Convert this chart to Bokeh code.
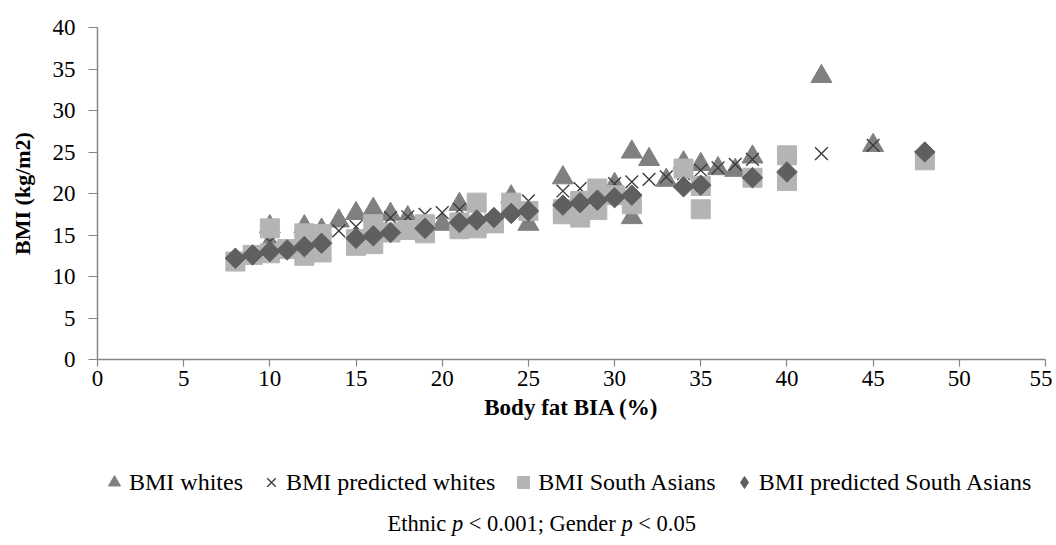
import numpy as np
from bokeh.plotting import figure
from bokeh.layouts import column
from bokeh.models import Legend, LegendItem, Label, Range1d, FixedTicker
from bokeh.embed import file_html
from bokeh.resources import INLINE

# ---- data ----
whites_x = [10, 10, 12, 13, 14, 15, 16, 17, 18, 20, 21, 22, 24, 25, 27, 30, 31, 31, 32, 33, 34, 35, 36, 37, 38, 42, 45]
whites_y = [16.0, 14.0, 16.0, 15.6, 16.7, 17.6, 18.1, 17.5, 17.1, 16.3, 18.7, 16.0, 19.6, 16.3, 21.9, 21.1, 25.0, 17.1, 24.1, 21.6, 23.7, 23.5, 23.0, 22.8, 24.4, 34.1, 25.8]

pred_whites_x = [10, 14, 15, 16, 17, 18, 19, 20, 21, 25, 27, 28, 29, 30, 31, 32, 33, 34, 35, 36, 37, 38, 42, 45]
pred_whites_y = [14.2, 15.5, 16.0, 16.6, 17.1, 17.2, 17.5, 17.7, 18.1, 19.1, 20.3, 20.6, 20.9, 21.2, 21.4, 21.7, 22.0, 22.4, 22.8, 23.1, 23.5, 24.1, 24.8, 25.8]

sa_x = [8, 9, 10, 10, 11, 12, 12, 13, 13, 15, 15, 16, 16, 17, 18, 19, 19, 21, 21, 22, 22, 23, 24, 25, 27, 27, 28, 28, 29, 29, 30, 31, 34, 35, 35, 38, 40, 40, 48]
sa_y = [11.8, 12.6, 15.8, 12.8, 13.3, 15.2, 12.5, 15.1, 12.9, 14.5, 13.7, 16.3, 13.9, 15.3, 15.6, 16.3, 15.2, 16.5, 15.7, 18.9, 15.8, 16.4, 18.9, 17.9, 18.1, 17.5, 19.1, 17.1, 20.6, 18.0, 19.8, 18.7, 23.0, 20.9, 18.1, 21.9, 24.6, 21.5, 24.0]

pred_sa_x = [8, 9, 10, 11, 12, 13, 15, 16, 17, 19, 21, 22, 23, 24, 25, 27, 28, 29, 30, 31, 34, 35, 38, 40, 48]
pred_sa_y = [12.2, 12.6, 13.0, 13.2, 13.6, 14.0, 14.6, 14.9, 15.3, 15.8, 16.5, 16.8, 17.1, 17.6, 17.9, 18.6, 18.9, 19.2, 19.5, 19.8, 20.8, 21.0, 21.9, 22.6, 25.0]

x_ticks = [0, 5, 10, 15, 20, 25, 30, 35, 40, 45, 50, 55]
y_ticks = [0, 5, 10, 15, 20, 25, 30, 35, 40]

series_labels = ["BMI whites", "BMI predicted whites", "BMI South Asians", "BMI predicted South Asians"]
x_title = "Body fat BIA (%)"
y_title = "BMI (kg/m2)"

FONT = "Liberation Serif"
FS = "23px"
FS_YT = "22px"
FS_LEG = "24px"
FS_FOOT = "22.5px"
AX = "#868686"
W = 1052
H_MAIN = 455
H_FOOT = 90

STYLES = [dict(marker="triangle", size=21, fill_color="#808080", line_color="#808080"),
          dict(marker="x", size=18, line_color="#3c3c3c", line_width=1.4),
          dict(marker="square", size=19, fill_color="#b4b4b4", line_color="#b4b4b4"),
          dict(marker="square", angle=np.pi / 4, size=14.5, fill_color="#5f5f5f", line_color="#5f5f5f")]
LEGEND_STYLES = STYLES[:3] + [dict(marker="diamond", size=14, fill_color="#5f5f5f", line_color="#5f5f5f")]

p = figure(width=W, height=H_MAIN, x_range=Range1d(0, 55), y_range=Range1d(0, 40),
           output_backend="svg", toolbar_location=None,
           min_border_left=97, min_border_right=7, min_border_top=27,
           min_border_bottom=H_MAIN - 27 - 332)
p.outline_line_color = None
p.grid.visible = False

for ax, ticks in ((p.xaxis, x_ticks), (p.yaxis, y_ticks)):
    ax.ticker = FixedTicker(ticks=ticks)
    ax.minor_tick_line_color = None
    ax.major_tick_in = 0
    ax.axis_line_color = AX
    ax.axis_line_width = 1.5
    ax.major_tick_line_color = AX
    ax.major_tick_line_width = 1.2
    ax.major_label_text_font = FONT
    ax.major_label_text_font_size = FS
    ax.major_label_text_color = "black"
    ax.axis_label_text_font = FONT
    ax.axis_label_text_font_size = FS
    ax.axis_label_text_font_style = "bold"
    ax.axis_label_text_color = "black"

p.xaxis.major_tick_out = 7
p.xaxis.major_label_standoff = 4
p.xaxis.axis_label = x_title
p.xaxis.axis_label_standoff = 6
p.yaxis.major_tick_out = 9
p.yaxis.major_label_standoff = 13
p.yaxis.axis_label = y_title
p.yaxis.axis_label_text_font_size = FS_YT
p.yaxis.axis_label_standoff = 15

p.scatter(whites_x, whites_y, **STYLES[0])
p.scatter(pred_whites_x, pred_whites_y, **STYLES[1])
p.scatter(sa_x, sa_y, **STYLES[2])
p.scatter(pred_sa_x, pred_sa_y, **STYLES[3])

# ---- legend + footnote strip (page pixel coordinates) ----
foot = figure(width=W, height=H_FOOT, x_range=Range1d(97, 1045), y_range=Range1d(H_MAIN + H_FOOT, H_MAIN),
              output_backend="svg", toolbar_location=None, x_axis_type=None, y_axis_type=None,
              min_border_left=97, min_border_right=7, min_border_top=0, min_border_bottom=0)
foot.outline_line_color = None
foot.grid.visible = False

# legend proxies: one point each, placed outside the strip's visible range
legend_renderers = [foot.scatter([0], [0], **st) for st in LEGEND_STYLES]
legend = Legend(items=[LegendItem(label=lab, renderers=[r]) for lab, r in zip(series_labels, legend_renderers)],
                orientation="horizontal", location=(2, 48),
                label_text_font=FONT, label_text_font_size=FS_LEG, label_text_color="black",
                glyph_width=30, glyph_height=30, label_standoff=0, spacing=13,
                padding=0, margin=0, border_line_alpha=0, background_fill_alpha=0)
foot.add_layout(legend)

foot_pieces = [("Ethnic", "normal", 0.0), ("p", "italic", 64.4), ("< 0.001; Gender", "normal", 81.3),
               ("p", "italic", 233.9), ("< 0.05", "normal", 250.8)]
for txt, style, off in foot_pieces:
    foot.add_layout(Label(x=387 + off, y=523, text=txt, text_font=FONT, text_font_size=FS_FOOT,
                          text_font_style=style, text_baseline="middle", text_align="left",
                          text_color="black"))

open("out.html", "w").write(file_html(column(p, foot, spacing=0), INLINE))
